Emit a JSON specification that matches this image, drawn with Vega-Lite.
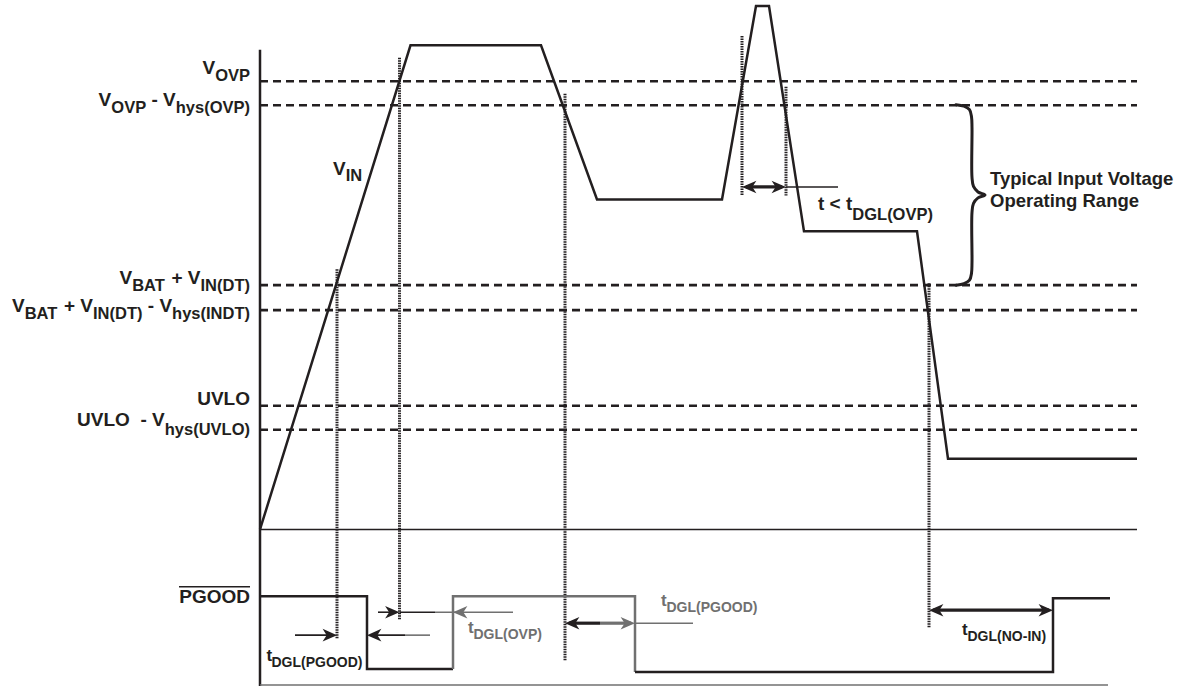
{
  "$schema": "https://vega.github.io/schema/vega-lite/v6.json",
  "width": 1190,
  "height": 688,
  "autosize": {"type": "fit", "contains": "padding"},
  "padding": 0,
  "background": "white",
  "config": {"view": {"stroke": null}},
  "datasets": {
    "paths": [
      {"id": "vin", "s": 1, "x": 260, "y": 531, "tone": "main"},
      {"id": "vin", "s": 2, "x": 410.5, "y": 45.5, "tone": "main"},
      {"id": "vin", "s": 3, "x": 541, "y": 45.5, "tone": "main"},
      {"id": "vin", "s": 4, "x": 597, "y": 200, "tone": "main"},
      {"id": "vin", "s": 5, "x": 722, "y": 200, "tone": "main"},
      {"id": "vin", "s": 6, "x": 756, "y": 6, "tone": "main"},
      {"id": "vin", "s": 7, "x": 769, "y": 6, "tone": "main"},
      {"id": "vin", "s": 8, "x": 804, "y": 232, "tone": "main"},
      {"id": "vin", "s": 9, "x": 917, "y": 232, "tone": "main"},
      {"id": "vin", "s": 10, "x": 948, "y": 460, "tone": "main"},
      {"id": "vin", "s": 11, "x": 1137, "y": 460, "tone": "main"},
      {"id": "pg1", "s": 1, "x": 260, "y": 598, "tone": "main"},
      {"id": "pg1", "s": 2, "x": 367, "y": 598, "tone": "main"},
      {"id": "pg1", "s": 3, "x": 367, "y": 671, "tone": "main"},
      {"id": "pg1", "s": 4, "x": 453, "y": 671, "tone": "main"},
      {"id": "pg2", "s": 1, "x": 453, "y": 671, "tone": "faded"},
      {"id": "pg2", "s": 2, "x": 453, "y": 598, "tone": "faded"},
      {"id": "pg2", "s": 3, "x": 635, "y": 598, "tone": "faded"},
      {"id": "pg2", "s": 4, "x": 635, "y": 674, "tone": "faded"},
      {"id": "pg3", "s": 1, "x": 635, "y": 674, "tone": "main"},
      {"id": "pg3", "s": 2, "x": 1053, "y": 674, "tone": "main"},
      {"id": "pg3", "s": 3, "x": 1053, "y": 600, "tone": "main"},
      {"id": "pg3", "s": 4, "x": 1110, "y": 600, "tone": "main"}
    ],
    "brace": [
      {"s": 1, "x": 956, "y": 105, "tone": "main"},
      {"s": 2, "x": 964, "y": 106.5, "tone": "main"},
      {"s": 3, "x": 969.5, "y": 110, "tone": "main"},
      {"s": 4, "x": 971.5, "y": 117, "tone": "main"},
      {"s": 5, "x": 972, "y": 128, "tone": "main"},
      {"s": 6, "x": 972, "y": 178, "tone": "main"},
      {"s": 7, "x": 973.5, "y": 187, "tone": "main"},
      {"s": 8, "x": 978, "y": 192.5, "tone": "main"},
      {"s": 9, "x": 985, "y": 195.5, "tone": "main"},
      {"s": 10, "x": 978, "y": 198.5, "tone": "main"},
      {"s": 11, "x": 973.5, "y": 204, "tone": "main"},
      {"s": 12, "x": 972, "y": 213, "tone": "main"},
      {"s": 13, "x": 972, "y": 263, "tone": "main"},
      {"s": 14, "x": 971.5, "y": 274, "tone": "main"},
      {"s": 15, "x": 969.5, "y": 281, "tone": "main"},
      {"s": 16, "x": 964, "y": 284.5, "tone": "main"},
      {"s": 17, "x": 956, "y": 286, "tone": "main"}
    ],
    "rules": [
      {"k": "dash", "x": 260, "y": 81.5, "x2": 1137, "y2": 81.5, "tone": "main"},
      {"k": "dash", "x": 260, "y": 105.5, "x2": 1137, "y2": 105.5, "tone": "main"},
      {"k": "dash", "x": 260, "y": 286, "x2": 1137, "y2": 286, "tone": "main"},
      {"k": "dash", "x": 260, "y": 311, "x2": 1137, "y2": 311, "tone": "main"},
      {"k": "dash", "x": 260, "y": 407, "x2": 1137, "y2": 407, "tone": "main"},
      {"k": "dash", "x": 260, "y": 431, "x2": 1137, "y2": 431, "tone": "main"},
      {"k": "dot", "x": 337, "y": 270, "x2": 337, "y2": 641, "tone": "main"},
      {"k": "dot", "x": 399.5, "y": 58, "x2": 399.5, "y2": 621, "tone": "main"},
      {"k": "dot", "x": 565, "y": 94, "x2": 565, "y2": 663, "tone": "main"},
      {"k": "dot", "x": 742, "y": 36, "x2": 742, "y2": 196, "tone": "main"},
      {"k": "dot", "x": 786, "y": 87, "x2": 786, "y2": 196, "tone": "main"},
      {"k": "dot", "x": 929, "y": 284, "x2": 929, "y2": 629, "tone": "main"},
      {"k": "axis", "x": 260, "y": 50, "x2": 260, "y2": 688, "tone": "main"},
      {"k": "thin", "x": 260, "y": 531, "x2": 1137, "y2": 531, "tone": "main"},
      {"k": "thin", "x": 260, "y": 687, "x2": 1108, "y2": 687, "tone": "faded"},
      {"k": "thin", "x": 179, "y": 588.5, "x2": 250, "y2": 588.5, "tone": "main"},
      {"k": "thin", "x": 295, "y": 637, "x2": 333, "y2": 637, "tone": "main"},
      {"k": "thin", "x": 371, "y": 637, "x2": 405, "y2": 637, "tone": "main"},
      {"k": "thin", "x": 405, "y": 637, "x2": 430, "y2": 637, "tone": "faded"},
      {"k": "thin", "x": 378, "y": 614, "x2": 396, "y2": 614, "tone": "main"},
      {"k": "thin", "x": 399.5, "y": 614, "x2": 435, "y2": 614, "tone": "main"},
      {"k": "thin", "x": 435, "y": 614, "x2": 513, "y2": 614, "tone": "faded"},
      {"k": "thin", "x": 635, "y": 625, "x2": 693, "y2": 625, "tone": "faded"},
      {"k": "thin", "x": 786, "y": 187.5, "x2": 838, "y2": 187.5, "tone": "main"},
      {"k": "bold", "x": 569, "y": 625, "x2": 600, "y2": 625, "tone": "main"},
      {"k": "bold", "x": 600, "y": 625, "x2": 631, "y2": 625, "tone": "faded"},
      {"k": "bold", "x": 933, "y": 612, "x2": 1049, "y2": 612, "tone": "main"},
      {"k": "bold", "x": 746, "y": 187.5, "x2": 782, "y2": 187.5, "tone": "main"}
    ],
    "heads": [
      {"dir": "R", "x": 337, "y": 637, "tone": "main"},
      {"dir": "L", "x": 367, "y": 637, "tone": "main"},
      {"dir": "R", "x": 399.5, "y": 614, "tone": "main"},
      {"dir": "L", "x": 453, "y": 614, "tone": "faded"},
      {"dir": "L", "x": 565, "y": 625, "tone": "main"},
      {"dir": "R", "x": 635, "y": 625, "tone": "faded"},
      {"dir": "L", "x": 929, "y": 612, "tone": "main"},
      {"dir": "R", "x": 1053, "y": 612, "tone": "main"},
      {"dir": "L", "x": 742, "y": 187.5, "tone": "main"},
      {"dir": "R", "x": 786, "y": 187.5, "tone": "main"}
    ],
    "labels": [
      {"r": "big", "t": "V", "x": 202.5, "y": 74, "tone": "main"},
      {"r": "sub", "t": "OVP", "x": 215.2, "y": 81, "tone": "main"},
      {"r": "big", "t": "V", "x": 98.6, "y": 106, "tone": "main"},
      {"r": "sub", "t": "OVP", "x": 111.3, "y": 113, "tone": "main"},
      {"r": "big", "t": "-\u00a0V", "x": 151.4, "y": 106, "tone": "main"},
      {"r": "sub", "t": "hys(OVP)", "x": 175.7, "y": 113, "tone": "main"},
      {"r": "big", "t": "V", "x": 119.5, "y": 285, "tone": "main"},
      {"r": "sub", "t": "BAT", "x": 132.2, "y": 292, "tone": "main"},
      {"r": "big", "t": "+\u00a0V", "x": 171.4, "y": 285, "tone": "main"},
      {"r": "sub", "t": "IN(DT)", "x": 200.5, "y": 292, "tone": "main"},
      {"r": "big", "t": "V", "x": 12, "y": 313, "tone": "main"},
      {"r": "sub", "t": "BAT", "x": 24.7, "y": 320, "tone": "main"},
      {"r": "big", "t": "+\u00a0V", "x": 63.9, "y": 313, "tone": "main"},
      {"r": "sub", "t": "IN(DT)", "x": 93, "y": 320, "tone": "main"},
      {"r": "big", "t": "-\u00a0V", "x": 147.8, "y": 313, "tone": "main"},
      {"r": "sub", "t": "hys(INDT)", "x": 172.1, "y": 320, "tone": "main"},
      {"r": "big", "t": "UVLO", "x": 197.2, "y": 406, "tone": "main"},
      {"r": "big", "t": "UVLO\u00a0\u00a0-\u00a0V", "x": 77.1, "y": 427, "tone": "main"},
      {"r": "sub", "t": "hys(UVLO)", "x": 164.7, "y": 436, "tone": "main"},
      {"r": "big", "t": "V", "x": 333, "y": 176, "tone": "main"},
      {"r": "sub", "t": "IN", "x": 345.7, "y": 182, "tone": "main"},
      {"r": "big", "t": "PGOOD", "x": 179.3, "y": 605, "tone": "main"},
      {"r": "big", "t": "t\u00a0<\u00a0t", "x": 818, "y": 211, "tone": "main"},
      {"r": "sub", "t": "DGL(OVP)", "x": 852.3, "y": 221, "tone": "main"},
      {"r": "note", "t": "Typical Input Voltage", "x": 990, "y": 186, "tone": "main"},
      {"r": "note", "t": "Operating Range", "x": 990, "y": 208, "tone": "main"},
      {"r": "tmain", "t": "t", "x": 266.5, "y": 663, "tone": "main"},
      {"r": "tsub", "t": "DGL(PGOOD)", "x": 271.5, "y": 669, "tone": "main"},
      {"r": "tmain", "t": "t", "x": 468, "y": 635, "tone": "faded"},
      {"r": "tsub", "t": "DGL(OVP)", "x": 473.5, "y": 641, "tone": "faded"},
      {"r": "tmain", "t": "t", "x": 661, "y": 608, "tone": "faded"},
      {"r": "tsub", "t": "DGL(PGOOD)", "x": 666.5, "y": 614, "tone": "faded"},
      {"r": "tmain", "t": "t", "x": 962, "y": 637, "tone": "main"},
      {"r": "tsub", "t": "DGL(NO-IN)", "x": 967.5, "y": 643, "tone": "main"}
    ]
  },
  "encoding": {
    "x": {"field": "x", "type": "quantitative", "scale": {"domain": [0, 1190], "nice": false, "zero": false}, "axis": null},
    "y": {"field": "y", "type": "quantitative", "scale": {"domain": [0, 688], "reverse": true, "nice": false, "zero": false}, "axis": null},
    "color": {"field": "tone", "type": "nominal", "scale": {"domain": ["main", "faded"], "range": ["#231f20", "#707070"]}, "legend": null}
  },
  "layer": [
    {
      "data": {"name": "rules"},
      "transform": [{"filter": "datum.k === 'dash'"}],
      "mark": {"type": "rule", "strokeWidth": 2.6, "strokeDash": [8, 5]},
      "encoding": {"x2": {"field": "x2"}, "y2": {"field": "y2"}}
    },
    {
      "data": {"name": "rules"},
      "transform": [{"filter": "datum.k === 'dot'"}],
      "mark": {"type": "rule", "strokeWidth": 3, "strokeDash": [1.5, 1]},
      "encoding": {"x2": {"field": "x2"}, "y2": {"field": "y2"}}
    },
    {
      "data": {"name": "rules"},
      "transform": [{"filter": "datum.k === 'axis'"}],
      "mark": {"type": "rule", "strokeWidth": 2.5},
      "encoding": {"x2": {"field": "x2"}, "y2": {"field": "y2"}}
    },
    {
      "data": {"name": "rules"},
      "transform": [{"filter": "datum.k === 'thin'"}],
      "mark": {"type": "rule", "strokeWidth": 1.6},
      "encoding": {"x2": {"field": "x2"}, "y2": {"field": "y2"}}
    },
    {
      "data": {"name": "rules"},
      "transform": [{"filter": "datum.k === 'bold'"}],
      "mark": {"type": "rule", "strokeWidth": 3.2},
      "encoding": {"x2": {"field": "x2"}, "y2": {"field": "y2"}}
    },
    {
      "data": {"name": "paths"},
      "mark": {"type": "line", "strokeWidth": 2.5, "strokeJoin": "miter"},
      "encoding": {"detail": {"field": "id"}, "order": {"field": "s", "type": "quantitative"}}
    },
    {
      "data": {"name": "brace"},
      "mark": {"type": "line", "strokeWidth": 3, "interpolate": "catmull-rom", "strokeCap": "round"},
      "encoding": {"order": {"field": "s", "type": "quantitative"}}
    },
    {
      "data": {"name": "heads"},
      "transform": [{"filter": "datum.dir === 'R'"}],
      "mark": {"type": "point", "shape": "M0,0L-1.6,-0.7L-1.15,0L-1.6,0.7Z", "filled": true, "size": 324, "opacity": 1, "strokeWidth": 0}
    },
    {
      "data": {"name": "heads"},
      "transform": [{"filter": "datum.dir === 'L'"}],
      "mark": {"type": "point", "shape": "M0,0L1.6,-0.7L1.15,0L1.6,0.7Z", "filled": true, "size": 324, "opacity": 1, "strokeWidth": 0}
    },
    {
      "data": {"name": "labels"},
      "transform": [{"filter": "datum.r === 'big'"}],
      "mark": {"type": "text", "font": "Liberation Sans", "fontWeight": "bold", "fontSize": 19, "align": "left", "baseline": "alphabetic"},
      "encoding": {"text": {"field": "t"}}
    },
    {
      "data": {"name": "labels"},
      "transform": [{"filter": "datum.r === 'sub'"}],
      "mark": {"type": "text", "font": "Liberation Sans", "fontWeight": "bold", "fontSize": 16.5, "align": "left", "baseline": "alphabetic"},
      "encoding": {"text": {"field": "t"}}
    },
    {
      "data": {"name": "labels"},
      "transform": [{"filter": "datum.r === 'note'"}],
      "mark": {"type": "text", "font": "Liberation Sans", "fontWeight": "bold", "fontSize": 18.5, "align": "left", "baseline": "alphabetic"},
      "encoding": {"text": {"field": "t"}}
    },
    {
      "data": {"name": "labels"},
      "transform": [{"filter": "datum.r === 'tmain'"}],
      "mark": {"type": "text", "font": "Liberation Sans", "fontWeight": "bold", "fontSize": 17, "align": "left", "baseline": "alphabetic"},
      "encoding": {"text": {"field": "t"}}
    },
    {
      "data": {"name": "labels"},
      "transform": [{"filter": "datum.r === 'tsub'"}],
      "mark": {"type": "text", "font": "Liberation Sans", "fontWeight": "bold", "fontSize": 14, "align": "left", "baseline": "alphabetic"},
      "encoding": {"text": {"field": "t"}}
    }
  ]
}
